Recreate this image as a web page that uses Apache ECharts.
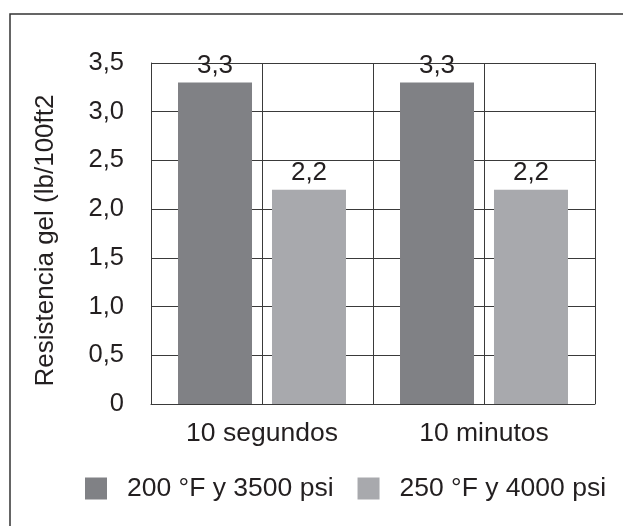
<!DOCTYPE html>
<html>
<head>
<meta charset="utf-8">
<script src="https://cdn.jsdelivr.net/npm/echarts@6/dist/echarts.min.js"></script>
<style>
  html, body { margin: 0; padding: 0; background: #ffffff; }
  #chart { width: 623px; height: 526px; }
</style>
</head>
<body>
<div id="chart"></div>
<script>
// Gel strength readings for two test conditions
const categories = ['10 segundos', '10 minutos'];
const seriesNames = ['200 °F y 3500 psi', '250 °F y 4000 psi'];
const values200F = [3.3, 3.3];
const values250F = [2.2, 2.2];
const yTicks = [0, 0.5, 1.0, 1.5, 2.0, 2.5, 3.0, 3.5];
const yAxisTitle = 'Resistencia gel (lb/100ft2';

const FONT = '"Liberation Sans", Arial, Helvetica, sans-serif';
const TEXT = '#231f20';
const GRID = '#3a3a3a';
const fmt = v => (v === 0 ? '0' : v.toFixed(1).replace('.', ','));

const chart = echarts.init(document.getElementById('chart'), null, { renderer: 'canvas' });

chart.setOption({
  backgroundColor: '#ffffff',
  animation: false,
  textStyle: { fontFamily: FONT, color: TEXT },
  graphic: [{
    type: 'rect',
    shape: { x: 10, y: 14, width: 800, height: 800 },
    style: { fill: 'none', stroke: '#333333', lineWidth: 1.5 },
    silent: true
  }],
  grid: { left: 151, right: 28, top: 63, bottom: 122, containLabel: false },
  legend: {
    data: seriesNames,
    left: 80,
    top: 470,
    icon: 'rect',
    itemWidth: 22,
    itemHeight: 22,
    itemGap: 24,
    textStyle: { fontFamily: FONT, fontSize: 26.5, color: TEXT, padding: [0, 0, 0, 15] }
  },
  xAxis: [{
    type: 'category',
    data: categories,
    axisLine: { show: true, lineStyle: { color: GRID, width: 1 } },
    axisTick: { show: false },
    splitLine: { show: false },
    axisLabel: { fontFamily: FONT, fontSize: 26.5, color: TEXT, margin: 16 }
  }, {
    // finer category split so that each group also gets a divider between its bars
    type: 'category',
    data: ['a', 'b', 'c', 'd'],
    position: 'bottom',
    axisLine: { show: false },
    axisTick: { show: false },
    axisLabel: { show: false },
    splitLine: { show: true, lineStyle: { color: GRID, width: 1 } }
  }],
  yAxis: {
    type: 'value',
    min: 0,
    max: yTicks[yTicks.length - 1],
    interval: yTicks[1] - yTicks[0],
    name: yAxisTitle,
    nameLocation: 'middle',
    nameRotate: 90,
    nameGap: 92,
    nameTextStyle: { fontFamily: FONT, fontSize: 26, color: TEXT, padding: [0, 14, 0, 0] },
    axisLine: { show: true, lineStyle: { color: GRID, width: 1 } },
    axisTick: { show: false },
    splitLine: { show: true, lineStyle: { color: GRID, width: 1 } },
    axisLabel: { fontFamily: FONT, fontSize: 25.5, color: TEXT, margin: 27, formatter: fmt }
  },
  series: [{
    name: seriesNames[0],
    type: 'bar',
    xAxisIndex: 0,
    data: values200F,
    barWidth: 74,
    barGap: '27%',
    itemStyle: { color: '#808185' },
    label: { show: true, position: 'top', distance: 4, fontFamily: FONT, fontSize: 26, color: TEXT, formatter: p => fmt(p.value) }
  }, {
    name: seriesNames[1],
    type: 'bar',
    xAxisIndex: 0,
    data: values250F,
    barWidth: 74,
    barGap: '27%',
    itemStyle: { color: '#a8a9ad' },
    label: { show: true, position: 'top', distance: 4, fontFamily: FONT, fontSize: 26, color: TEXT, formatter: p => fmt(p.value) }
  }]
});
</script>
</body>
</html>
